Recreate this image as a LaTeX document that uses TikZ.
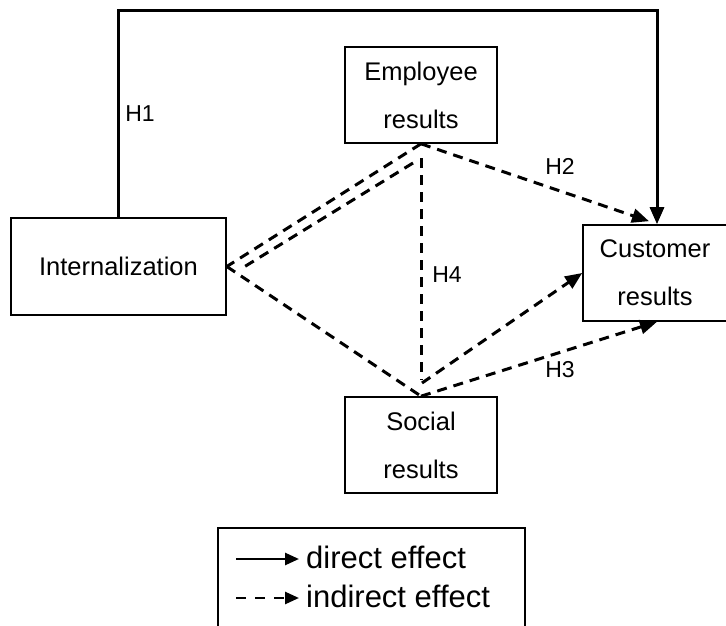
\documentclass[tikz,border=0pt]{standalone}
\usepackage{fontspec}
\setmainfont{Liberation Sans}
\usetikzlibrary{arrows.meta}
\begin{document}
\begin{tikzpicture}[x=1pt,y=-1pt,
  box/.style={draw, line width=1.6pt, rectangle, inner sep=0pt, align=center,
    minimum width=152pt, minimum height=96pt, font=\fontsize{25.5}{48}\selectfont},
  lbl/.style={inner sep=0pt, font=\fontsize{23}{26}\selectfont},
  legtxt/.style={inner sep=0pt, anchor=west, font=\fontsize{31}{36}\selectfont},
  tipstyle/.style={-{Triangle[length=17pt,width=14pt]}},
  solidarr/.style={line width=3pt, tipstyle},
  dashln/.style={line width=3pt, dash pattern=on 10pt off 7pt},
  dasharr/.style={dashln, tipstyle},
]
\useasboundingbox (0,0) rectangle (726,626);
\fill[white] (0,0) rectangle (726,626);

% boxes
\node[box, minimum width=215pt, minimum height=97pt] (int) at (118.5,266.5) {Internalization};
\node[box] (emp) at (421,95) {Employee\\results};
\node[box] (soc) at (421,445) {Social\\results};
\node[box, minimum width=144pt, minimum height=96pt] (cust) at (655,273) {Customer\\results};

% helper coordinates
\coordinate (h1top) at (657,11);
\coordinate (e2) at (413,163);
\coordinate (i2) at (244,267);
\coordinate (vtop) at (421,158);
\coordinate (vbot) at (421,380);
\coordinate (sup) at (422,383);

% direct effect H1
\draw[solidarr] (int.north) |- (h1top) -- ([xshift=2pt]cust.north);

% indirect links
\draw[dashln] (emp.south) -- (int.east);
\draw[dashln] (e2) -- (i2);
\draw[dashln] (int.east) -- (soc.north);
\draw[dashln] (vtop) -- (vbot);
\draw[dasharr] (emp.south) -- ([xshift=-6pt,yshift=3pt]cust.north);
\draw[dasharr] (sup) -- (cust.west);
\draw[dasharr] (soc.north) -- ([xshift=2pt]cust.south);

% labels
\node[lbl] (H1) at (140,114) {H1};
\node[lbl] (H2) at (560,166) {H2};
\node[lbl] (H3) at (560,370) {H3};
\node[lbl] (H4) at (447,275) {H4};

% legend
\node[draw, line width=1.6pt, minimum width=307pt, minimum height=112pt, inner sep=0pt] (leg) at (371.5,584) {};
\coordinate (l1a) at (236,559);
\coordinate (l1b) at (299,559);
\coordinate (l2a) at (236,598);
\coordinate (l2b) at (299,598);
\draw[line width=2.6pt, -{Triangle[length=14pt,width=12pt]}] (l1a) -- (l1b);
\draw[line width=2.6pt, dash pattern=on 10pt off 9pt, -{Triangle[length=14pt,width=12pt]}] (l2a) -- (l2b);
\node[legtxt] (t1) at (306,557) {direct effect};
\node[legtxt] (t2) at (306,596) {indirect effect};
\end{tikzpicture}
\end{document}
